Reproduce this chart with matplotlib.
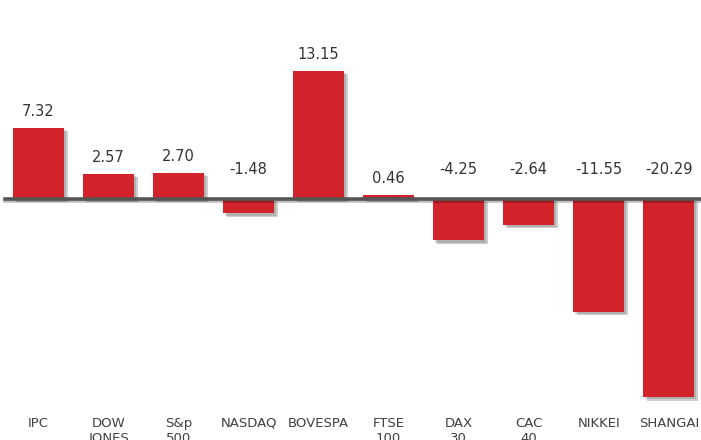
import matplotlib
matplotlib.use("Agg")
import matplotlib.pyplot as plt
import matplotlib.patheffects as pe
import numpy as np

# indices bursatiles
indices = ["IPC", "DOW\nJONES", "S&p\n500", "NASDAQ", "BOVESPA",
           "FTSE\n100", "DAX\n30", "CAC\n40", "NIKKEI", "SHANGAI"]
rendimiento = [7.32, 2.57, 2.70, -1.48, 13.15, 0.46, -4.25, -2.64, -11.55, -20.29]

bar_color = "#D2232A"
text_color = "#404040"

fig = plt.figure(figsize=(7.01, 4.40), dpi=100)
ax = fig.add_axes([0, 0, 1, 1])

x = np.arange(len(indices))
shadow = [pe.SimplePatchShadow(offset=(2.5, -2.5), shadow_rgbFace="#707070", alpha=0.35),
          pe.SimplePatchShadow(offset=(1.5, -1.5), shadow_rgbFace="#707070", alpha=0.3),
          pe.Normal()]
bars = ax.bar(x, rendimiento, 0.73, color=bar_color, zorder=2)
for b in bars:
    b.set_path_effects(shadow)

# linea del cero
ax.plot([-0.48, 9.6], [0, 0], color="#555555", lw=2.6, zorder=3,
        path_effects=[pe.SimpleLineShadow(offset=(0, -1.5), alpha=0.25), pe.Normal()])

# etiquetas de valor
for i, v in enumerate(rendimiento):
    if v >= 0:
        ax.annotate("%.2f" % v, (i, v), xytext=(0, 11.5), textcoords="offset points",
                    ha="center", va="center", fontsize=10.5, color="#333333")
    else:
        ax.annotate("%.2f" % v, (i, 0), xytext=(0, 21), textcoords="offset points",
                    ha="center", va="center", fontsize=10.5, color="#333333")

# nombres de los indices
for i, name in enumerate(indices):
    ax.text(i, -22.3, name, ha="center", va="top", fontsize=9.5,
            color=text_color, linespacing=1.25)

ax.set_xlim(-0.55, 9.46)
ax.set_ylim(-24.69, 20.39)
ax.axis("off")

fig.savefig("out.png", dpi=100)
